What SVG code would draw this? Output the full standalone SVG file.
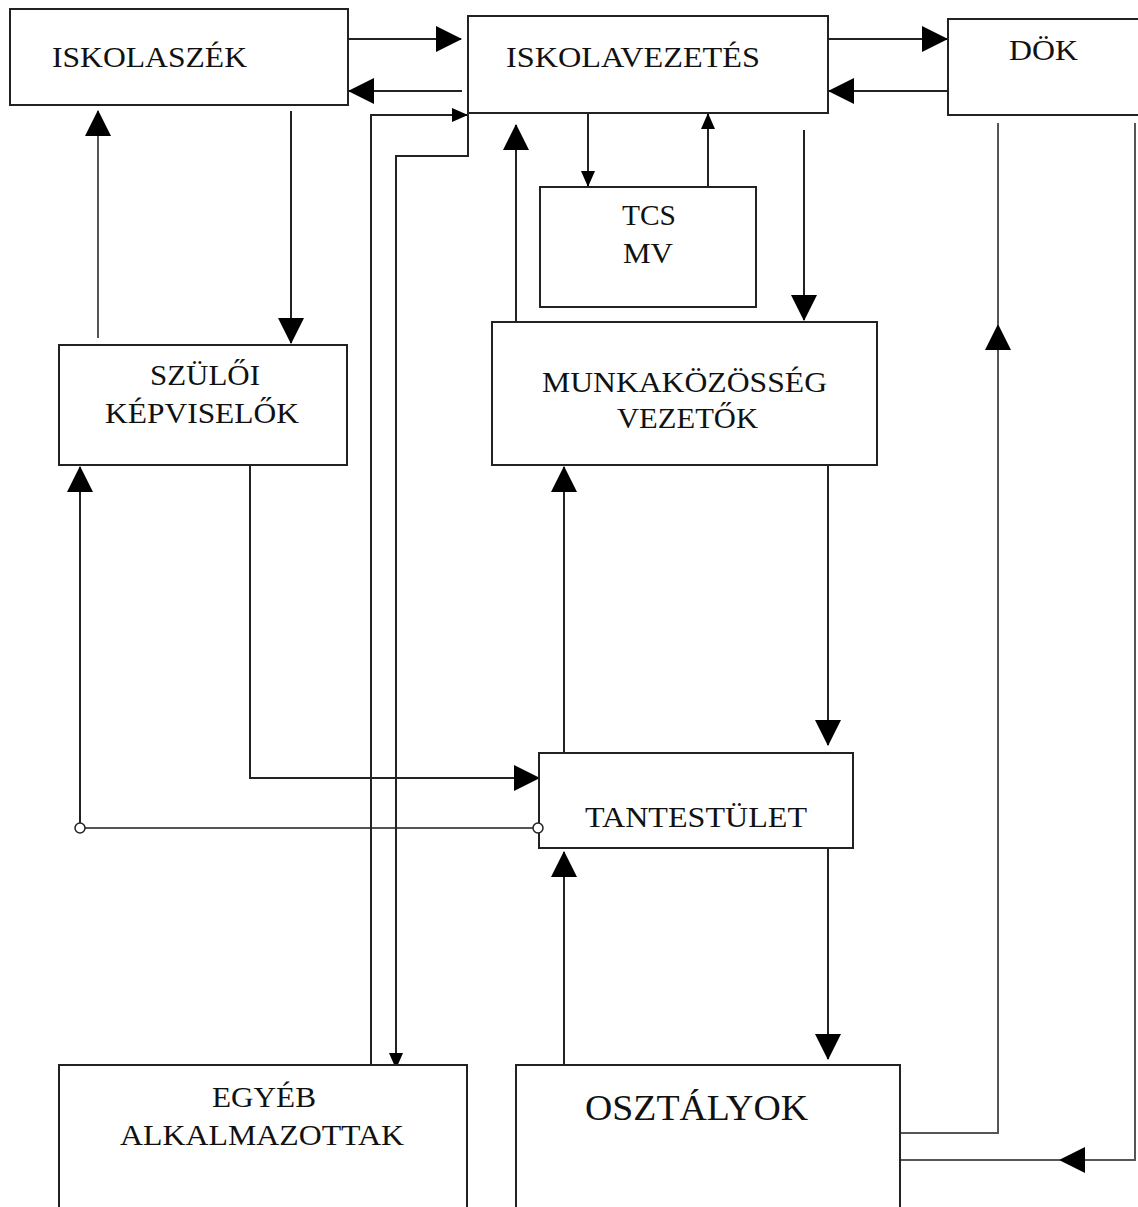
<svg xmlns="http://www.w3.org/2000/svg" width="1138" height="1207" viewBox="0 0 1138 1207">
<defs>
<style>
.box{fill:#fff;stroke:#222;stroke-width:2}
.ln{fill:none;stroke:#222;stroke-width:2}
.lg{fill:none;stroke:#555;stroke-width:2}
.t{font-family:"Liberation Serif","Times New Roman",serif;font-size:30px;fill:#111}
.big{font-size:35px}
.jn{fill:#fff;stroke:#222;stroke-width:1.5}
</style>
<marker id="ab" markerUnits="userSpaceOnUse" markerWidth="26" markerHeight="26" viewBox="0 0 26 26" refX="25" refY="13" orient="auto">
<path d="M0,0 L26,13 L0,26 Z" fill="#000"/>
</marker>
<marker id="as" markerUnits="userSpaceOnUse" markerWidth="16" markerHeight="14" viewBox="0 0 16 14" refX="15" refY="7" orient="auto">
<path d="M0,0 L16,7 L0,14 Z" fill="#000"/>
</marker>
</defs>
<rect width="1138" height="1207" fill="#fff"/>

<g id="connectors">
<path class="ln" d="M348,39 H461" marker-end="url(#ab)"/>
<path class="ln" d="M462,91 H349" marker-end="url(#ab)"/>
<path class="ln" d="M828,39 H947" marker-end="url(#ab)"/>
<path class="ln" d="M948,91 H829" marker-end="url(#ab)"/>
<path class="ln" d="M588,113 V186" marker-end="url(#as)"/>
<path class="ln" d="M708,187 V114" marker-end="url(#as)"/>
<path class="ln" d="M516,322 V125" marker-end="url(#ab)"/>
<path class="ln" d="M804,130 V320" marker-end="url(#ab)"/>
<path class="lg" d="M98,338 V111" marker-end="url(#ab)"/>
<path class="ln" d="M291,111 V343" marker-end="url(#ab)"/>
<path class="ln" d="M250,465 V778 H539" marker-end="url(#ab)"/>
<path class="lg" d="M533,828 H85"/>
<path class="ln" d="M80,823 V467" marker-end="url(#ab)"/>
<path class="ln" d="M564,753 V467" marker-end="url(#ab)"/>
<path class="ln" d="M828,465 V745" marker-end="url(#ab)"/>
<path class="ln" d="M828,848 V1059" marker-end="url(#ab)"/>
<path class="ln" d="M564,1065 V852" marker-end="url(#ab)"/>
<path class="lg" d="M900,1133 H998 V325" marker-end="url(#ab)"/>
<path class="lg" d="M998,325 V123"/>
<path class="lg" d="M1135,123 V1160 H1060" marker-end="url(#ab)"/>
<path class="lg" d="M1060,1160 H900"/>
<path class="ln" d="M371,1065 V115 H467" marker-end="url(#as)"/>
<path class="ln" d="M468,113 V156 H396 V1068" marker-end="url(#as)"/>
</g>

<g id="iskolaszek">
<rect class="box" x="10" y="9" width="338" height="96"/>
<text class="t" x="52" y="67" textLength="195" lengthAdjust="spacingAndGlyphs">ISKOLASZÉK</text>
</g>
<g id="iskolavezetes">
<rect class="box" x="468" y="16" width="360" height="97"/>
<text class="t" x="506" y="67" textLength="254" lengthAdjust="spacingAndGlyphs">ISKOLAVEZETÉS</text>
</g>
<g id="dok">
<rect class="box" x="948" y="19" width="194" height="96"/>
<text class="t" x="1009" y="60" textLength="69" lengthAdjust="spacingAndGlyphs">DÖK</text>
</g>
<g id="tcs-mv">
<rect class="box" x="540" y="187" width="216" height="120"/>
<text class="t" x="622" y="225" textLength="54" lengthAdjust="spacingAndGlyphs">TCS</text>
<text class="t" x="623" y="263" textLength="50" lengthAdjust="spacingAndGlyphs">MV</text>
</g>
<g id="munkakozosseg">
<rect class="box" x="492" y="322" width="385" height="143"/>
<text class="t" x="542" y="392" textLength="285" lengthAdjust="spacingAndGlyphs">MUNKAKÖZÖSSÉG</text>
<text class="t" x="617" y="428" textLength="141" lengthAdjust="spacingAndGlyphs">VEZETŐK</text>
</g>
<g id="szuloi">
<rect class="box" x="59" y="345" width="288" height="120"/>
<text class="t" x="150" y="385" textLength="110" lengthAdjust="spacingAndGlyphs">SZÜLŐI</text>
<text class="t" x="105" y="423" textLength="194" lengthAdjust="spacingAndGlyphs">KÉPVISELŐK</text>
</g>
<g id="tantestulet">
<rect class="box" x="539" y="753" width="314" height="95"/>
<text class="t" x="585" y="827" textLength="222" lengthAdjust="spacingAndGlyphs">TANTESTÜLET</text>
</g>
<g id="egyeb">
<rect class="box" x="59" y="1065" width="408" height="150"/>
<text class="t" x="212" y="1107" textLength="104" lengthAdjust="spacingAndGlyphs">EGYÉB</text>
<text class="t" x="120" y="1145" textLength="284" lengthAdjust="spacingAndGlyphs">ALKALMAZOTTAK</text>
</g>
<g id="osztalyok">
<rect class="box" x="516" y="1065" width="384" height="150"/>
<text class="t big" x="585" y="1120" textLength="223" lengthAdjust="spacingAndGlyphs">OSZTÁLYOK</text>
</g>
<g id="junctions">
<circle class="jn" cx="80" cy="828" r="5"/>
<circle class="jn" cx="538" cy="828" r="5"/>
</g>
</svg>
